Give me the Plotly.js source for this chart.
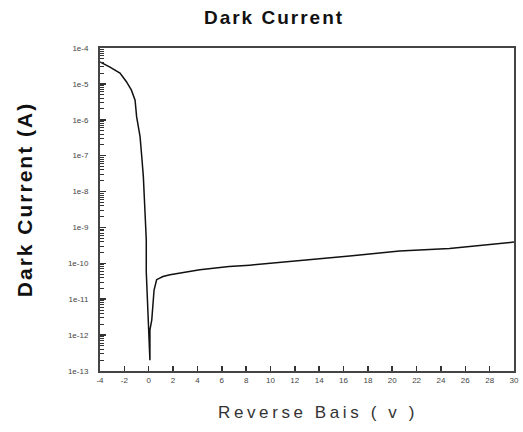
<!DOCTYPE html>
<html>
<head>
<meta charset="utf-8">
<script src="https://cdn.plot.ly/plotly-3.0.1.min.js"></script>
<style>
html,body{margin:0;padding:0;background:#fff;}
#chart{width:523px;height:432px;}
.xtitle{letter-spacing:3.6px;}
.ytitle{letter-spacing:2px;}
.gtitle{letter-spacing:2px;}
</style>
</head>
<body>
<div id="chart"></div>
<script>
const biasV = [-4, -3.18, -2.36, -1.83, -1.42, -1.12, -0.99, -0.71, -0.57, -0.44, -0.3, -0.2, -0.2, -0.03, 0.1, 0.1, 0.25, 0.44, 0.65, 1.17, 1.75, 4.2, 6.6, 8.3, 12.4, 16.5, 20.6, 24.7, 30];
const darkCurrentA = [4.1e-5, 2.95e-5, 2.0e-5, 1.15e-5, 6.7e-6, 3.5e-6, 1.2e-6, 3.4e-7, 9.3e-8, 2.6e-8, 2.5e-9, 4.5e-10, 5.8e-11, 1.4e-12, 2.0e-13, 1.4e-12, 2.6e-12, 1.8e-11, 3.5e-11, 4.3e-11, 4.8e-11, 6.6e-11, 8.1e-11, 8.9e-11, 1.17e-10, 1.6e-10, 2.2e-10, 2.6e-10, 3.9e-10];
const yTickVals = [1e-13, 1e-12, 1e-11, 1e-10, 1e-9, 1e-8, 1e-7, 1e-6, 1e-5, 1e-4];
const yTickText = ["1e-13", "1e-12", "1e-11", "1e-10", "1e-9", "1e-8", "1e-7", "1e-6", "1e-5", "1e-4"];
const xTickVals = [-4, -2, 0, 2, 4, 6, 8, 10, 12, 14, 16, 18, 20, 22, 24, 26, 28, 30];
const yMinorTickVals = [];
yTickVals.slice(0, -1).forEach(d => { for (let m = 2; m <= 9; m++) yMinorTickVals.push(m * d); });

const trace = {
  x: biasV, y: darkCurrentA, type: 'scatter', mode: 'lines',
  line: {color: '#111', width: 1.5, shape: 'linear'},
  hoverinfo: 'skip'
};

const layout = {
  width: 523, height: 432,
  margin: {l: 100, r: 9, t: 48, b: 61},
  paper_bgcolor: '#fff', plot_bgcolor: '#fff',
  showlegend: false,
  font: {family: 'Arial, Liberation Sans, sans-serif', color: '#333'},
  title: {
    text: '<b>Dark Current</b>',
    font: {size: 19, color: '#111', family: 'Arial, Liberation Sans, sans-serif'},
    x: 274/523, xref: 'container', xanchor: 'center',
    y: 1 - 17/432, yref: 'container', yanchor: 'middle'
  },
  xaxis: {
    range: [-4, 30],
    tickmode: 'array', tickvals: xTickVals, ticktext: xTickVals.map(String),
    ticks: 'inside', ticklen: 5, tickwidth: 1.5, tickcolor: '#333',
    showline: true, linecolor: '#444', linewidth: 2, mirror: true,
    showgrid: false, zeroline: false,
    tickfont: {size: 8, color: '#444'},
    title: {text: 'Reverse Bais ( v )', font: {size: 17, color: '#333'}, standoff: 23}
  },
  yaxis: {
    type: 'log', range: [-13, -4],
    tickmode: 'array', tickvals: yTickVals, ticktext: yTickText,
    ticks: 'inside', ticklen: 6, tickwidth: 1.5, tickcolor: '#333',
    showline: true, linecolor: '#444', linewidth: 2, mirror: true,
    showgrid: false, zeroline: false,
    tickfont: {size: 8, color: '#444'},
    ticklabelstandoff: 8,
    title: {text: '<b>Dark Current (A)</b>', font: {size: 21, color: '#111'}, standoff: 30}
  },
  yaxis2: {
    type: 'log', range: [-13, -4], overlaying: 'y', side: 'left', anchor: 'x',
    tickmode: 'array', tickvals: yMinorTickVals,
    ticks: 'inside', ticklen: 3.5, tickwidth: 1, tickcolor: '#333',
    showticklabels: false, showline: false, showgrid: false, zeroline: false
  }
};

const minorTickTrace = {x: [null], y: [null], yaxis: 'y2', type: 'scatter', mode: 'lines', hoverinfo: 'skip'};

Plotly.newPlot('chart', [trace, minorTickTrace], layout, {displayModeBar: false, staticPlot: true}).then(() => {
  const yt = document.querySelector('.ytitle');
  if (yt) yt.setAttribute('transform', 'translate(0,-10) ' + (yt.getAttribute('transform') || ''));
  const xt = document.querySelector('.xtitle');
  if (xt) xt.setAttribute('transform', 'translate(11,0) ' + (xt.getAttribute('transform') || ''));
});
</script>
</body>
</html>
